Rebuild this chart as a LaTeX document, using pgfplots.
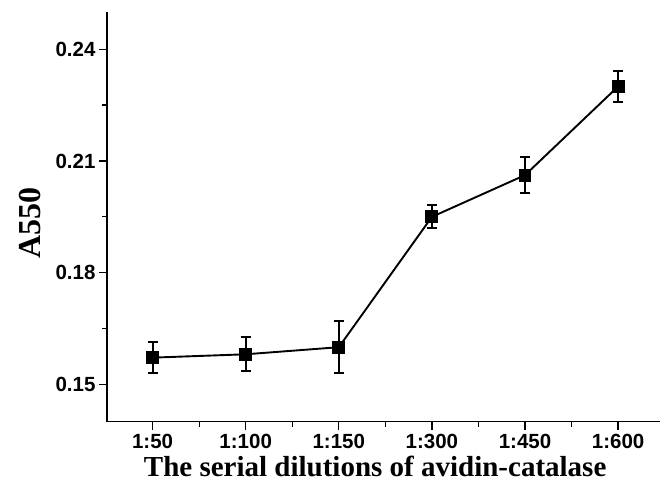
\documentclass[border=0pt]{standalone}
\usepackage{fontspec}
\setmainfont{Liberation Sans}
\newfontfamily\tnr{Liberation Serif}
\usepackage{pgfplots}
\pgfplotsset{compat=1.18}
\begin{document}
\begin{tikzpicture}
\begin{axis}[
  name=ax,
  scale only axis, width=553pt, height=409.7pt,
  xmin=-0.49, xmax=5.45, ymin=0.14, ymax=0.25,
  axis x line=bottom, axis y line=left,
  axis line style={-, line width=1.3pt},
  xtick={0,1,2,3,4,5},
  xticklabels={1:50,1:100,1:150,1:300,1:450,1:600},
  minor xtick={0.5,1.5,2.5,3.5,4.5},
  ytick={0.15,0.18,0.21,0.24},
  minor ytick={0.165,0.195,0.225},
  tick align=outside,
  major tick length=8pt, minor tick length=5pt,
  every tick/.style={line width=1.3pt, black},
  /pgf/number format/assume math mode=true,
  yticklabel style={/pgf/number format/fixed, /pgf/number format/precision=2, /pgf/number format/fixed zerofill},
  xticklabel style={inner sep=1pt, yshift=-3pt},
  tick label style={font=\fontsize{20.5}{22}\selectfont\bfseries},
  xlabel={The serial dilutions of avidin-catalase},
  ylabel={A550},
  xlabel style={at={(axis description cs:0.485,0)}, anchor=center, inner sep=0pt, yshift=-45pt, font=\fontsize{29}{32}\selectfont\tnr\bfseries},
  ylabel style={at={(axis description cs:-0.139,0.484)}, anchor=center, font=\fontsize{32}{34}\selectfont\tnr\bfseries},
]
\addplot[black, line width=1.9pt, mark=square*, mark size=5.5pt,
  error bars/.cd, y dir=both, y explicit,
  error bar style={line width=1.9pt, black},
  error mark options={rotate=90, mark size=5pt, line width=1.9pt, black}]
  table[x=x, y=y, y error=e] {
x y e
0 0.1572 0.0041
1 0.1581 0.0046
2 0.1600 0.0070
3 0.1950 0.0031
4 0.2062 0.0048
5 0.2300 0.0042
};
\end{axis}
\pgfresetboundingbox
\path[use as bounding box] ([shift={(-107pt,-64.3pt)}]ax.south west) rectangle ++(661pt,486pt);
\end{tikzpicture}
\end{document}
